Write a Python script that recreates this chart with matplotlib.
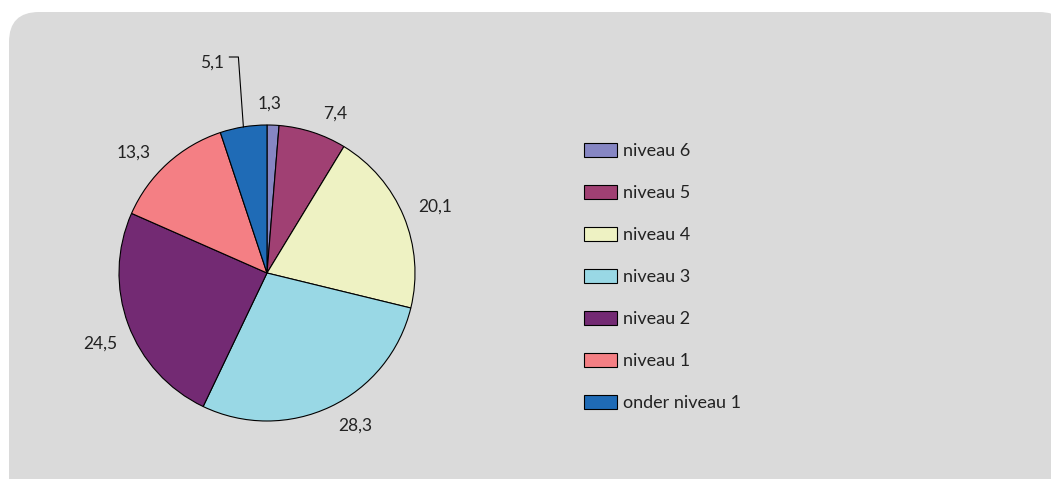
import numpy as np
import matplotlib
matplotlib.use('Agg')
from matplotlib import pyplot as plt
from matplotlib.patches import FancyBboxPatch

plt.rcParams['font.family'] = ['Lato', 'DejaVu Sans']

categories = ['niveau 6', 'niveau 5', 'niveau 4', 'niveau 3',
              'niveau 2', 'niveau 1', 'onder niveau 1']
values = [1.3, 7.4, 20.1, 28.3, 24.5, 13.3, 5.1]
colors = ['#8686c3', '#a04073', '#eef2c3', '#99d8e5',
          '#732a73', '#f47f84', '#1f6bb6']
# small angular nudges (degrees) for the value labels, like the original layout
label_nudge = [1.3, -5, -1, 4.6, 2.7, 5.7, 0]

W, H = 1051, 479
fig = plt.figure(figsize=(W / 100, H / 100), dpi=100)

# background panel in pixel coordinates
bg = fig.add_axes([0, 0, 1, 1])
bg.set_xlim(0, W)
bg.set_ylim(H, 0)
bg.axis('off')
bg.add_patch(FancyBboxPatch((9, 12), 1060, 520,
                            boxstyle='round,pad=0,rounding_size=30',
                            fc='#dadada', ec='none'))

ax = fig.add_axes([0, 0, 1, 1])
ax.patch.set_alpha(0)

cx, cy, r = 267, H - 273, 148
labels = [('%.1f' % v).replace('.', ',') for v in values]
wedges, texts = ax.pie(values, colors=colors, startangle=90, counterclock=False,
                       center=(cx, cy), radius=r, labels=labels,
                       labeldistance=1.15,
                       wedgeprops=dict(edgecolor='black', linewidth=0.8),
                       textprops=dict(fontsize=12.5, color='#222222'))
# pie resets the limits, put pixel limits back
ax.set_xlim(0, W)
ax.set_ylim(0, H)
ax.set_aspect('auto')
ax.axis('off')

# push each label out so its box sits a fixed gap outside the rim
fig.canvas.draw()
renderer = fig.canvas.get_renderer()
gap = 15
for w, t, nd in zip(wedges, texts, label_nudge):
    a = np.deg2rad((w.theta1 + w.theta2) / 2 + nd)
    bb = t.get_window_extent(renderer)
    hw, hh = bb.width / 2, bb.height / 2 - 2
    ext = hw * abs(np.cos(a)) + hh * abs(np.sin(a))
    d = r + gap + ext
    t.set_position((cx + d * np.cos(a), cy + d * np.sin(a)))
    t.set_ha('center')
    t.set_va('center')

# small slice: label with leader line
w = wedges[-1]
mid = np.deg2rad((w.theta1 + w.theta2) / 2)
ex, ey = cx + r * np.cos(mid), cy + r * np.sin(mid)
texts[-1].set_visible(False)
ax.plot([ex, ex - 5, ex - 14], [ey, H - 57, H - 57], color='black', lw=0.8)
ax.text(ex - 19, H - 63, labels[-1], ha='right', va='center',
        fontsize=12.5, color='#222222')

leg = fig.legend(wedges, categories, loc='upper left',
                 bbox_to_anchor=(584 / W, 1 - 143 / H), frameon=False,
                 fontsize=13, handlelength=1.83, handleheight=0.83,
                 handletextpad=0.33, labelspacing=1.42, borderpad=0,
                 borderaxespad=0)
for t in leg.get_texts():
    t.set_color('#222222')

fig.savefig('out.png', dpi=100)
